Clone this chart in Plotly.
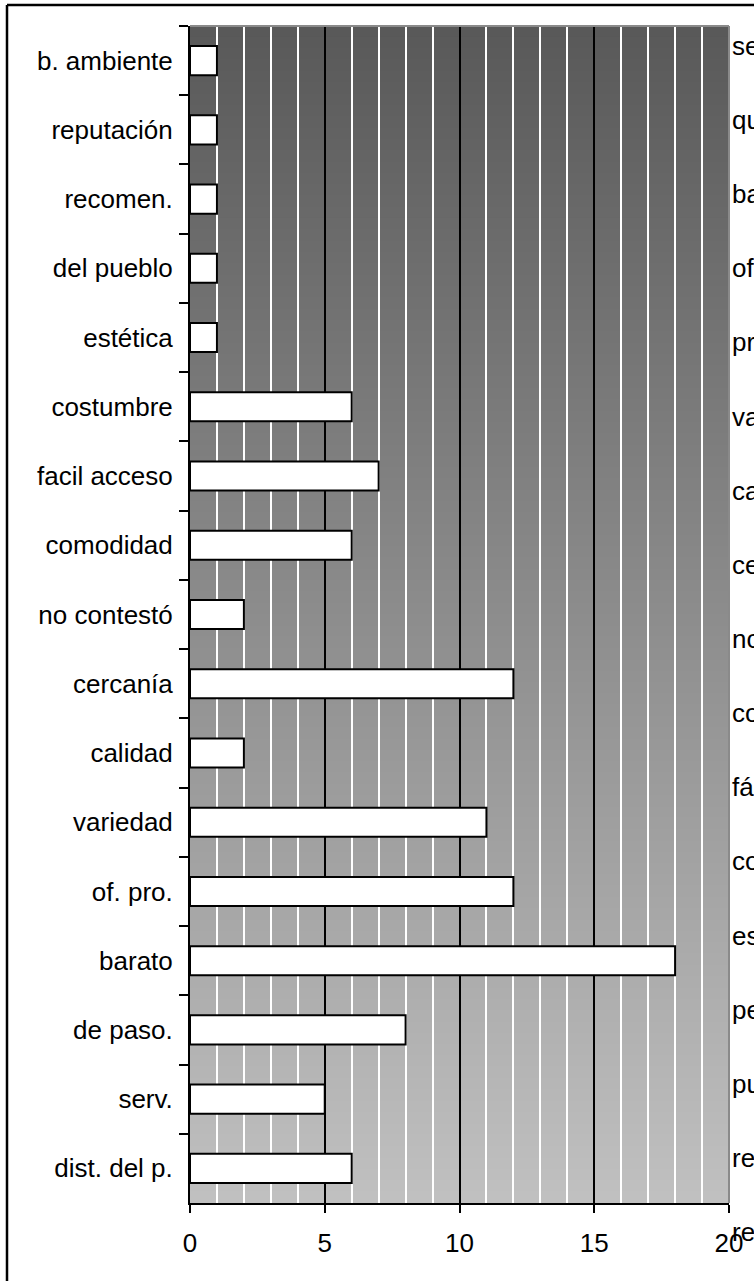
import plotly.graph_objects as go

# Data (top to bottom as in the chart)
categories = ["b. ambiente", "reputación", "recomen.", "del pueblo", "estética",
              "costumbre", "facil acceso", "comodidad", "no contestó", "cercanía",
              "calidad", "variedad", "of. pro.", "barato", "de paso.", "serv.",
              "dist. del p."]
values = [1, 1, 1, 1, 1, 6, 7, 6, 2, 12, 2, 11, 12, 18, 8, 5, 6]

# Legend-like texts at right edge (clipped by the page border)
side_texts = ["servicio", "queda de paso", "barato", "oferta", "promoción",
              "variedad", "calidad", "cercanía", "nc", "comodidad",
              "fácil acceso", "costumbre", "estética", "persona", "pueblo",
              "recomendación", "reputación"]

x_ticks = [0, 5, 10, 15, 20]

W, H = 754, 1281
L, R, T, B = 190, 25, 26, 78
plot_w = W - L - R
plot_h = H - T - B

FONT = "Liberation Sans, Arial, sans-serif"
FS = 26

fig = go.Figure()
fig.add_trace(go.Bar(
    x=values, y=categories, orientation="h",
    marker=dict(color="white", line=dict(color="black", width=2)),
    width=0.42, showlegend=False, hoverinfo="skip",
))

shapes = []
# vertical gradient background (dark top -> light bottom)
top_c, bot_c = 89, 192
n = bot_c - top_c + 1
for i in range(n):
    g = top_c + i
    y1 = 1 - i / n
    y0 = 1 - (i + 1) / n
    shapes.append(dict(type="rect", xref="paper", yref="paper",
                       x0=0, x1=1, y0=y0 - 0.0005, y1=y1 + 0.0005,
                       fillcolor=f"rgb({g},{g},{g})", line=dict(width=0),
                       layer="below"))
# plot area top / right border (gray)
shapes.append(dict(type="line", xref="paper", yref="paper", x0=0, x1=1, y0=1, y1=1,
                   line=dict(color="#8a8a8a", width=2), layer="above"))
shapes.append(dict(type="line", xref="paper", yref="paper", x0=1, x1=1, y0=0, y1=1,
                   line=dict(color="#8a8a8a", width=2), layer="above"))
# outer chart frame (cut at right and bottom)
fx = (7 - L) / plot_w
fy = 1 + (T - 5) / plot_h
shapes.append(dict(type="line", xref="paper", yref="paper", x0=fx, x1=1.2, y0=fy, y1=fy,
                   line=dict(color="black", width=2.5), layer="above"))
shapes.append(dict(type="line", xref="paper", yref="paper", x0=fx, x1=fx, y0=fy, y1=-0.2,
                   line=dict(color="black", width=2.5), layer="above"))

annotations = []
first_px, last_px = 46, 1232
step = (last_px - first_px) / (len(side_texts) - 1)
for i, t in enumerate(side_texts):
    ypx = first_px + i * step
    annotations.append(dict(
        text=t, xref="paper", yref="paper",
        x=1 + (730 - (W - R)) / plot_w, y=1 - (ypx - T) / plot_h,
        xanchor="left", yanchor="middle", showarrow=False,
        font=dict(family=FONT, size=FS, color="black")))

fig.update_layout(
    width=W, height=H,
    margin=dict(l=L, r=R, t=T, b=B, pad=0),
    paper_bgcolor="white", plot_bgcolor="rgba(0,0,0,0)",
    font=dict(family=FONT, size=FS, color="black"),
    shapes=shapes, annotations=annotations,
    bargap=0.58,
)
fig.update_xaxes(
    range=[0, 20], tickvals=x_ticks, ticktext=[str(v) for v in x_ticks],
    showgrid=True, gridcolor="black", gridwidth=2,
    minor=dict(dtick=1, tick0=0, showgrid=True, gridcolor="white", gridwidth=2),
    showline=True, linecolor="black", linewidth=2,
    ticks="outside", ticklen=8, tickwidth=2, tickcolor="black",
    ticklabelstandoff=8,
    zeroline=False, fixedrange=True,
)
fig.update_yaxes(
    autorange="reversed", tickson="boundaries",
    showgrid=False, showline=True, linecolor="black", linewidth=2,
    ticks="outside", ticklen=9, tickwidth=2, tickcolor="black",
    ticklabelstandoff=10,
    zeroline=False, fixedrange=True,
)

fig.write_html("out.html", config={"displayModeBar": False},
               post_script="document.body.style.margin='0';document.body.style.overflow='hidden';")
